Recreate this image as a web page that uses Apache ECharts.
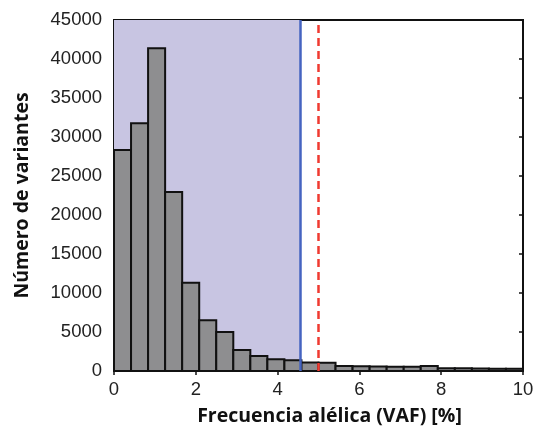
<!DOCTYPE html>
<html>
<head>
<meta charset="utf-8">
<script src="https://cdn.jsdelivr.net/npm/echarts@6/dist/echarts.min.js"></script>
<style>html,body{margin:0;padding:0;background:#fff;}#c{width:538px;height:434px;}</style>
</head>
<body>
<div id="c"></div>
<script>
// Histogram of VAF (%), 24 equal bins over 0–10
const binStart = 0;
const binEnd = 10;
const counts = [28330, 31750, 41370, 22950, 11330, 6500, 5000, 2690, 1920, 1500, 1370, 1080, 1070, 640, 620, 580, 560, 560, 640, 360, 340, 320, 290, 280];
const shadeRange = [0, 4.55];
const blueLineX = 4.55;
const redLineX = 5.0;
const xTicks = [0, 2, 4, 6, 8, 10];
const yTicks = [0, 5000, 10000, 15000, 20000, 25000, 30000, 35000, 40000, 45000];
const xTitle = 'Frecuencia alélica (VAF) [%]';
const yTitle = 'Número de variantes';

const binW = (binEnd - binStart) / counts.length;
const histData = counts.map((c, i) => [binStart + i * binW, binStart + (i + 1) * binW, c]);

const chart = echarts.init(document.getElementById('c'), null, {renderer: 'canvas'});
const tickFont = {fontFamily: 'Liberation Sans', fontSize: 18.5, color: '#222'};
const titleFont = {fontFamily: 'Open Sans', fontWeight: 'bold', fontSize: 19.5, color: '#111'};

chart.setOption({
  animation: false,
  backgroundColor: '#fff',
  grid: {left: 114, right: 15, top: 20, bottom: 63, show: true, borderColor: '#111', borderWidth: 2, backgroundColor: 'transparent'},
  xAxis: {
    type: 'value', min: xTicks[0], max: xTicks[xTicks.length - 1], interval: 2,
    axisLine: {show: true, lineStyle: {color: '#111', width: 2}},
    axisTick: {show: true, inside: false, length: 4, lineStyle: {color: '#111', width: 1.5}},
    axisLabel: Object.assign({margin: 9}, tickFont),
    splitLine: {show: false},
    name: xTitle, nameLocation: 'middle', nameGap: 35,
    nameTextStyle: Object.assign({padding: [0, 0, 0, 22]}, titleFont)
  },
  yAxis: [{
    type: 'value', min: yTicks[0], max: yTicks[yTicks.length - 1], interval: 5000,
    axisLine: {show: true, lineStyle: {color: '#111', width: 2}},
    axisTick: {show: true, inside: true, length: 4, lineStyle: {color: '#111', width: 1.5}},
    axisLabel: Object.assign({margin: 12, formatter: v => String(v)}, tickFont),
    splitLine: {show: false},
    name: yTitle, nameLocation: 'middle', nameGap: 82,
    nameTextStyle: Object.assign({padding: [8, 0, 0, 0]}, titleFont)
  }, {
    type: 'value', position: 'right', min: yTicks[0], max: yTicks[yTicks.length - 1], interval: 5000,
    axisLine: {show: true, lineStyle: {color: '#111', width: 2}},
    axisTick: {show: true, inside: true, length: 4, lineStyle: {color: '#111', width: 1.5}},
    axisLabel: {show: false},
    splitLine: {show: false}
  }],
  series: [
    {
      type: 'line', data: [], z: 1, silent: true,
      markArea: {
        silent: true,
        itemStyle: {color: '#c8c5e2', opacity: 1},
        data: [[{xAxis: shadeRange[0], yAxis: yTicks[0]}, {xAxis: shadeRange[1], yAxis: yTicks[yTicks.length - 1]}]]
      }
    },
    {
      type: 'custom', z: 2,
      data: histData,
      renderItem: function (params, api) {
        const p0 = api.coord([api.value(0), 0]);
        const p1 = api.coord([api.value(1), api.value(2)]);
        return {
          type: 'rect',
          shape: {x: p0[0], y: p1[1], width: p1[0] - p0[0], height: p0[1] - p1[1]},
          style: {fill: '#8e8e90', stroke: '#111', lineWidth: 2}
        };
      }
    },
    {
      type: 'line', data: [], z: 3, silent: true,
      markLine: {
        silent: true, symbol: 'none', label: {show: false},
        data: [
          [{coord: [blueLineX, yTicks[0]], lineStyle: {color: '#4563c0', width: 2.5, type: 'solid'}},
           {coord: [blueLineX, yTicks[yTicks.length - 1]]}],
          [{coord: [redLineX, yTicks[0]], lineStyle: {color: '#f03a30', width: 2.5, type: [8, 5]}},
           {coord: [redLineX, yTicks[yTicks.length - 1]]}]
        ]
      }
    }
  ]
});
</script>
</body>
</html>
